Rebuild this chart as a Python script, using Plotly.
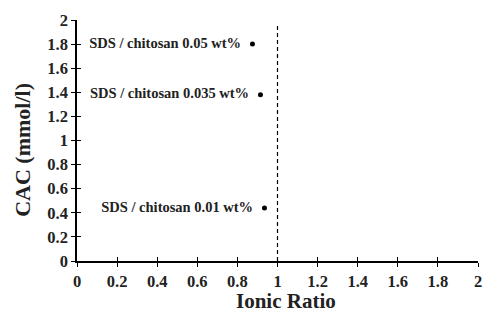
import plotly.graph_objects as go

labels = ["SDS / chitosan 0.05 wt%", "SDS / chitosan 0.035 wt%", "SDS / chitosan 0.01 wt%"]
ionic_ratio = [0.875, 0.915, 0.935]
cac = [1.80, 1.38, 0.44]
stoich_x = [1, 1]
stoich_y = [0, 1.97]
ticks = [0, 0.2, 0.4, 0.6, 0.8, 1, 1.2, 1.4, 1.6, 1.8, 2]
tick_text = ["0", "0.2", "0.4", "0.6", "0.8", "1", "1.2", "1.4", "1.6", "1.8", "2"]
x_title = "Ionic Ratio"
y_title = "CAC (mmol/l)"

FONT = "Liberation Serif"
fig = go.Figure()
fig.add_trace(go.Scatter(x=stoich_x, y=stoich_y, mode="lines",
                         line=dict(color="black", width=1.2, dash="4px,3px"),
                         showlegend=False, hoverinfo="skip"))
fig.add_trace(go.Scatter(x=ionic_ratio, y=cac, mode="markers+text",
                         marker=dict(color="black", size=5),
                         text=["<b>" + l + "</b>  " for l in labels], textposition="middle left",
                         textfont=dict(family=FONT, size=14.5, color="#222"),
                         showlegend=False, cliponaxis=False))
# inside ticks overlay to make crossing ticks
fig.add_trace(go.Scatter(x=[0], y=[0], xaxis="x2", yaxis="y2", mode="markers",
                         marker=dict(opacity=0), showlegend=False, hoverinfo="skip"))

bold_ticks = ["<b>" + t + "</b>" for t in tick_text]
axis_common = dict(range=[0, 2], tickvals=ticks, ticktext=bold_ticks,
                   showgrid=False, zeroline=False, showline=True, automargin=False,
                   linecolor="black", linewidth=1.5, tickcolor="black",
                   ticklen=4, tickwidth=1.2, ticklabeloverflow="allow",
                   tickfont=dict(family=FONT, size=16.5, color="#222"))

fig.update_layout(
    width=484, height=313,
    margin=dict(l=77, r=6, t=20, b=52, autoexpand=False),
    plot_bgcolor="white", paper_bgcolor="white",
    xaxis=dict(**axis_common, ticks="outside"),
    yaxis=dict(**axis_common, ticks="outside"),
    xaxis2=dict(range=[0, 2], tickvals=ticks, ticks="inside", ticklen=4, tickwidth=1.2, automargin=False,
                tickcolor="black", showticklabels=False, showgrid=False, zeroline=False,
                overlaying="x", anchor="y2", side="bottom"),
    yaxis2=dict(range=[0, 2], tickvals=ticks, ticks="inside", ticklen=4, tickwidth=1.2, automargin=False,
                tickcolor="black", showticklabels=False, showgrid=False, zeroline=False,
                overlaying="y", anchor="x2", side="left"),
    annotations=[
        dict(text="<b>" + x_title + "</b>", xref="paper", yref="paper", x=0.52, y=-0.166,
             xanchor="center", yanchor="middle", showarrow=False,
             font=dict(family=FONT, size=21, color="#222")),
        dict(text="<b>" + y_title + "</b>", xref="paper", yref="paper", x=-0.138, y=0.46,
             xanchor="center", yanchor="middle", showarrow=False, textangle=-90,
             font=dict(family=FONT, size=22, color="#222")),
    ],
)
fig.write_html("out.html", config={"displayModeBar": False},
               post_script="document.body.style.margin='0';document.body.style.overflow='hidden';")
